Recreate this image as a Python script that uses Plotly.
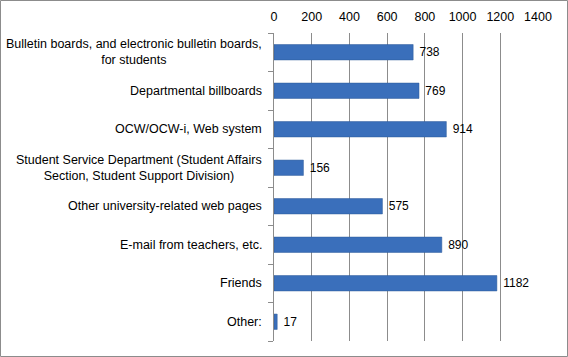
import plotly.graph_objects as go

categories = [
    "Bulletin boards, and electronic bulletin boards,<br>for students",
    "Departmental billboards",
    "OCW/OCW-i, Web system",
    "Student Service Department (Student Affairs<br>Section, Student Support Division)",
    "Other university-related web pages",
    "E-mail from teachers, etc.",
    "Friends",
    "Other:",
]
values = [738, 769, 914, 156, 575, 890, 1182, 17]
x_ticks = [0, 200, 400, 600, 800, 1000, 1200, 1400]

FONT = "Liberation Sans"
W, H = 568, 357
ml, mr, mt, mb = 274, 30, 33, 16
pw, ph = W - ml - mr, H - mt - mb

fig = go.Figure(go.Bar(
    y=list(range(len(categories))),
    x=values,
    orientation="h",
    marker=dict(color="#3a6fbb", line=dict(color="#2d5a99", width=0.5)),
    text=[str(v) for v in values],
    texttemplate=" %{text}",
    textposition="outside",
    textfont=dict(family=FONT, size=12, color="#000"),
    cliponaxis=False,
    width=0.4,
))

annotations = [
    dict(x=0, xref="x", y=i, yref="y", text=c, showarrow=False,
         xanchor="right", xshift=-10, align="center",
         font=dict(family=FONT, size=12.5, color="#000"))
    for i, c in enumerate(categories)
]

fig.update_layout(
    width=W, height=H,
    margin=dict(l=ml, r=mr, t=mt, b=mb, autoexpand=False),
    paper_bgcolor="white", plot_bgcolor="white",
    showlegend=False,
    annotations=annotations,
    xaxis=dict(
        side="top", range=[0, 1400], tickvals=x_ticks,
        showgrid=True, gridcolor="#8c8c8c", gridwidth=1,
        zeroline=False, showline=False, ticks="",
        ticklabelstandoff=9,
        tickfont=dict(family=FONT, size=12.5, color="#000"),
        automargin=False, fixedrange=True,
    ),
    yaxis=dict(
        range=[len(categories) - 0.5, -0.5],
        tickvals=[i - 0.5 for i in range(len(categories) + 1)],
        showticklabels=False,
        ticks="outside", ticklen=5, tickcolor="#8c8c8c",
        showline=True, linecolor="#8c8c8c", linewidth=1,
        showgrid=False, zeroline=False, automargin=False,
        fixedrange=True,
    ),
    shapes=[dict(
        type="rect", xref="paper", yref="paper",
        x0=(0.5 - ml) / pw, x1=(W - 0.5 - ml) / pw,
        y0=-(mb - 0.5) / ph, y1=1 + (mt - 0.5) / ph,
        line=dict(color="#8c8c8c", width=1),
    )],
)

fig.write_html("out.html", config={"displayModeBar": False},
               post_script="document.body.style.margin='0';")
